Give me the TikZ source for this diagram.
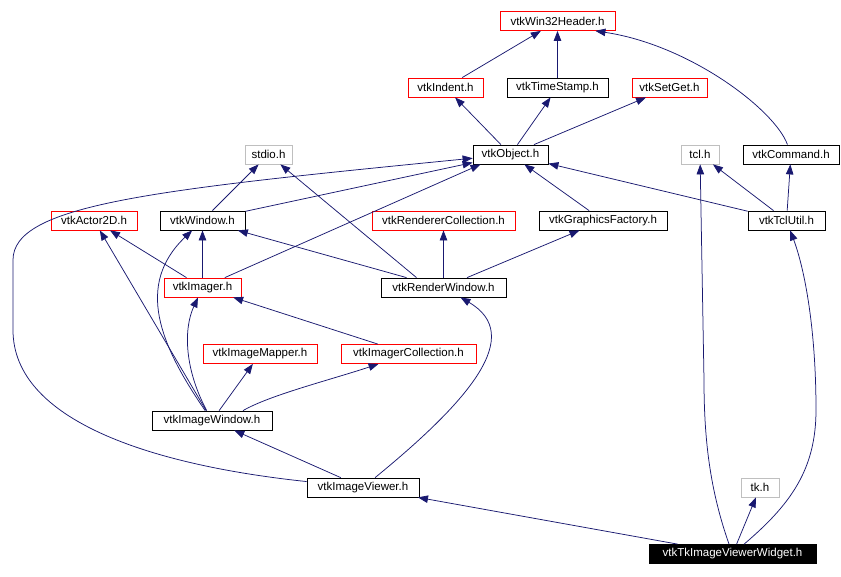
\documentclass[tikz,border=0pt]{standalone}
\usepackage{fontspec}
\setmainfont{Liberation Sans}
\usetikzlibrary{arrows.meta}
\definecolor{depblue}{RGB}{25,25,112}
\definecolor{boxgray}{RGB}{191,191,191}
\begin{document}
\begin{tikzpicture}[x=1pt,y=-1pt,
    hdr/.style={draw=black,fill=white,line width=0.8pt,minimum height=19pt,inner sep=0pt,
        font=\fontsize{11.5}{12}\selectfont},
    hdrred/.style={hdr,draw=red},
    hdrgray/.style={hdr,draw=boxgray},
    hdrroot/.style={hdr,fill=black,text=white},
    dep/.style={draw=depblue,line width=0.75pt,-{Triangle[length=10pt,width=7.5pt]}}]
    \useasboundingbox (0,0) rectangle (841,576);
    %NODE
    \node[hdrred,minimum width=115pt] (win32) at (557.5,21) {vtkWin32Header.h};
    \node[hdrred,minimum width=75pt] (indent) at (445.5,87.5) {vtkIndent.h};
    \node[hdr,minimum width=101pt] (tstamp) at (557.5,87.5) {vtkTimeStamp.h};
    \node[hdrred,minimum width=75pt] (setget) at (669.5,87.5) {vtkSetGet.h};
    \node[hdrgray,minimum width=47pt] (stdio) at (268.5,154.5) {stdio.h};
    \node[hdr,minimum width=75pt] (object) at (510.5,154.5) {vtkObject.h};
    \node[hdrgray,minimum width=38pt] (tcl) at (700,154.5) {tcl.h};
    \node[hdr,minimum width=96pt] (command) at (791,154.5) {vtkCommand.h};
    \node[hdrred,minimum width=86pt] (actor) at (94,220.5) {vtkActor2D.h};
    \node[hdr,minimum width=85pt] (window) at (202.5,220.5) {vtkWindow.h};
    \node[hdrred,minimum width=143pt] (rendcoll) at (443.5,220.5) {vtkRendererCollection.h};
    \node[hdr,minimum width=128pt] (gfactory) at (603,220.5) {vtkGraphicsFactory.h};
    \node[hdr,minimum width=77pt] (tclutil) at (786.5,220.5) {vtkTclUtil.h};
    \node[hdrred,minimum width=77pt] (imager) at (202.5,287.5) {vtkImager.h};
    \node[hdr,minimum width=125pt] (rwin) at (443.5,287.5) {vtkRenderWindow.h};
    \node[hdrred,minimum width=114pt] (mapper) at (260,354) {vtkImageMapper.h};
    \node[hdrred,minimum width=135pt] (imgcoll) at (408.5,354) {vtkImagerCollection.h};
    \node[hdr,minimum width=120pt] (imgwin) at (212,420.5) {vtkImageWindow.h};
    \node[hdr,minimum width=112pt] (imgview) at (363,487.5) {vtkImageViewer.h};
    \node[hdrgray,minimum width=38pt] (tk) at (760,487.5) {tk.h};
    \node[hdrroot,minimum width=167pt] (tkw) at (732.5,554) {vtkTkImageViewerWidget.h};

    %EDGE
    \draw[dep] (indent) -- (win32);
    \draw[dep] (tstamp) -- (win32);
    \draw[dep] (command) .. controls (775,110) and (690,45) .. ([xshift=-20pt]win32.south east);
    \draw[dep] (object) -- (indent);
    \draw[dep] (object) -- (tstamp);
    \draw[dep] (object) -- (setget);
    \draw[dep] (window) -- (stdio);
    \draw[dep] ([xshift=-27pt]rwin.north) -- (stdio);
    \draw[dep] (imgview) .. controls (150,465) and (13,420) .. (13,330) -- (13,260)
        .. controls (13,205) and (150,190) .. (object);
    \draw[dep] (window) -- (object);
    \draw[dep] (imager) -- ([xshift=-30pt]object.south);
    \draw[dep] (gfactory) -- (object);
    \draw[dep] (tclutil) -- (object);
    \draw[dep] (tclutil) -- (tcl);
    \draw[dep] (tclutil) -- (command);
    \draw[dep] (imager) -- (actor);
    \draw[dep] (imager) -- (window);
    \draw[dep] ([xshift=-37pt]rwin.north) -- (window);
    \draw[dep] (rwin) -- (rendcoll);
    \draw[dep] (rwin) -- (gfactory);
    \draw[dep] (imgwin) -- (actor);
    \draw[dep] (imgwin) .. controls (160,345) and (135,285) .. (window);
    \draw[dep] (imgwin) .. controls (185,370) and (183,330) .. (imager);
    \draw[dep] (imgcoll) -- (imager);
    \draw[dep] (imgwin) -- (mapper);
    \draw[dep] ([xshift=31pt]imgwin.north) .. controls (270,395) and (330,380) .. (imgcoll);
    \draw[dep] (imgview) -- (imgwin);
    \draw[dep] (imgview) .. controls (470,400) and (525,335) .. (rwin);
    \draw[dep] (tkw) -- (imgview);
    \draw[dep] (tkw) .. controls (710,490) and (704,440) .. (704,380) -- (tcl);
    \draw[dep] (tkw) .. controls (790,505) and (816,470) .. (816,410)
        .. controls (816,330) and (805,270) .. (tclutil);
    \draw[dep] (tkw) -- (tk);
\end{tikzpicture}
\end{document}
